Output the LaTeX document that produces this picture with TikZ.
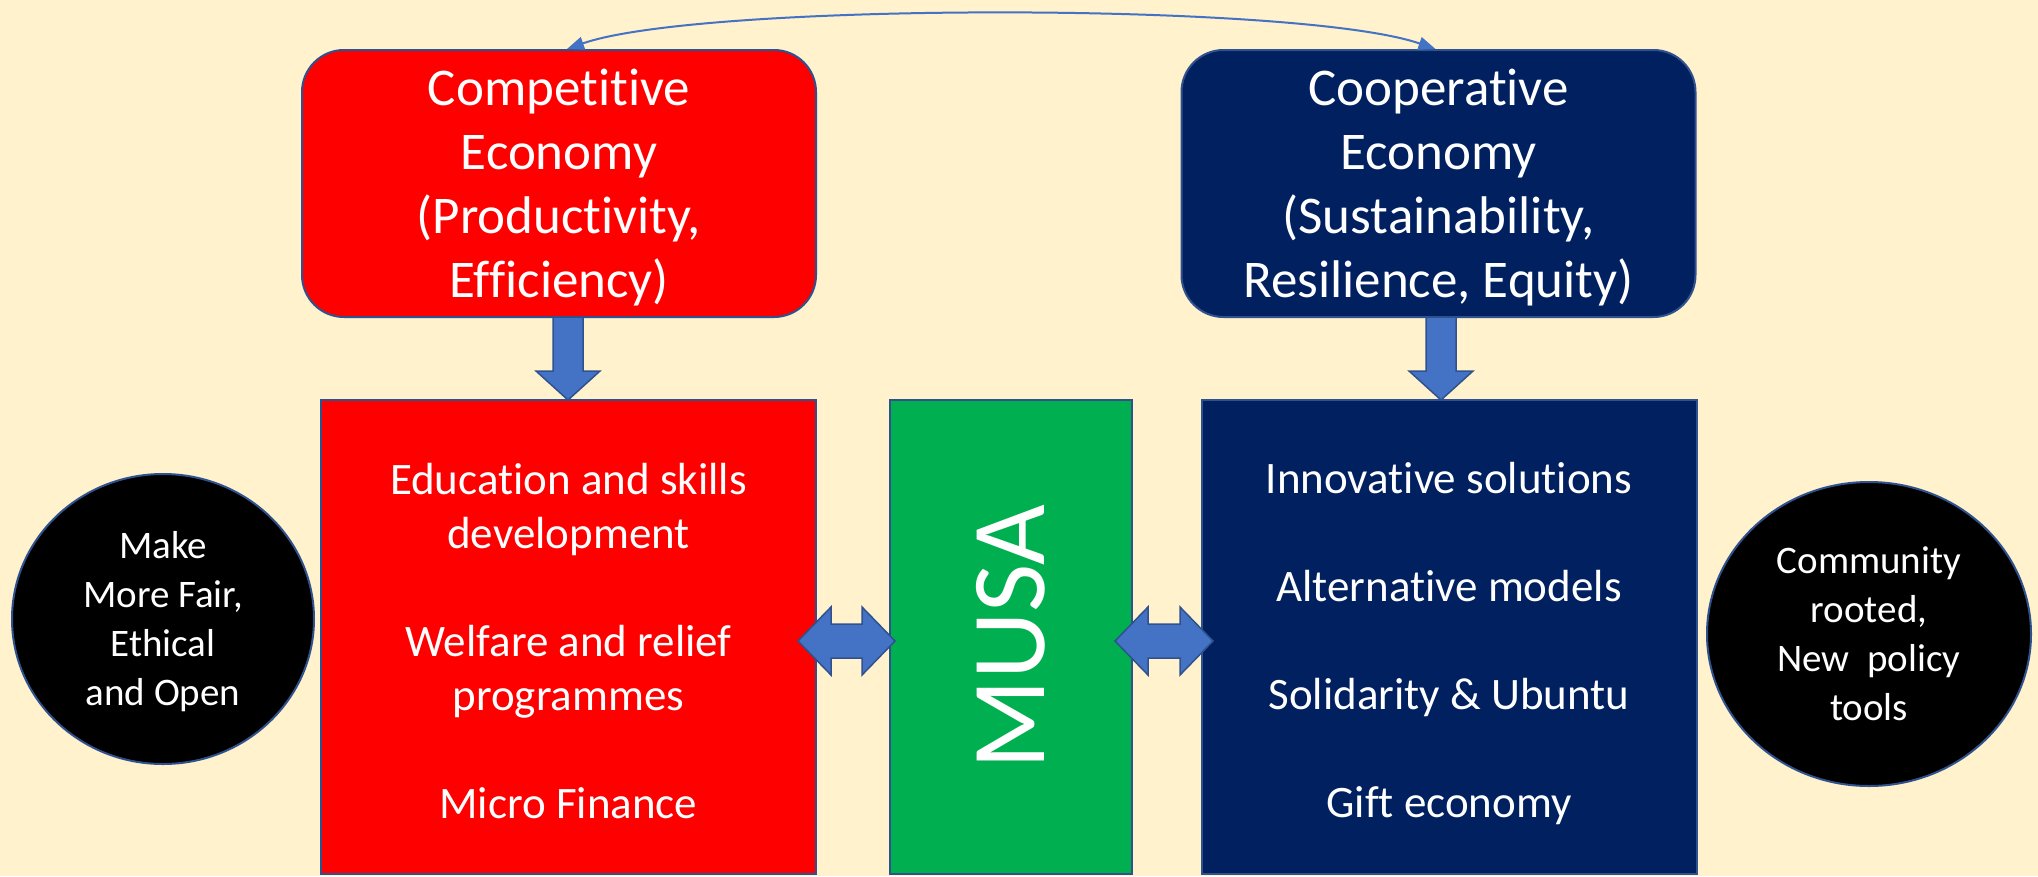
\documentclass[tikz,border=0pt]{standalone}
\usepackage{fontspec}
\setmainfont[Ligatures=NoCommon,RawFeature={-liga;-clig;-calt;-rlig;-dlig}]{Carlito}
\usetikzlibrary{shapes.geometric,arrows.meta,calc}
\newcommand\zk{\kern0pt{}}
\definecolor{bg}{HTML}{FFF2CC}
\definecolor{redc}{HTML}{FF0000}
\definecolor{navy}{HTML}{002060}
\definecolor{greenc}{HTML}{00B050}
\definecolor{arrowfill}{HTML}{4472C4}
\definecolor{edge}{HTML}{2F528F}
\begin{document}
\begin{tikzpicture}[x=1pt,y=-1pt,
  box/.style={draw=edge, line width=2pt, text=white, align=center, inner sep=0pt},
  topbox/.style={box, rounded corners=42pt, minimum width=514pt, minimum height=267pt, font=\fontsize{53}{64}\selectfont},
  lowbox/.style={box, minimum width=495pt, minimum height=474pt, font=\fontsize{45}{54}\selectfont},
  disc/.style={ellipse, draw=edge, line width=2pt, fill=black, text=white, align=center, inner sep=0pt, font=\fontsize{39}{49}\selectfont},
  blockarrow/.style={fill=arrowfill, draw=edge, line width=1.5pt, line join=miter},
  link/.style={draw=arrowfill, line width=2pt, {Triangle[length=17pt,width=13pt]}-{Triangle[length=17pt,width=13pt]}}
]
\fill[bg] (0,0) rectangle (2038,876);
\useasboundingbox (0,0) rectangle (2038,876);

\node[topbox, fill=redc] (comp) at (559,183.5) {\rule{0pt}{45pt}Competit\zk ive\\Economy\\(Productivit\zk y,\\Ef\zk f\zk iciency)};
\node[topbox, fill=navy] (coop) at (1438.5,183.5) {\rule{0pt}{45pt}Cooperat\zk ive\\Economy\\(Sustainability,\\Resilience, Equity)};

\node[lowbox, fill=redc] (compl) at (568.5,637) {\rule{0pt}{40pt}Education and skills\\development\\[54pt]Welfare and relief\\programmes\\[54pt]Micro Finance};
\node[lowbox, fill=navy] (coopl) at (1449,637) {\rule{0pt}{44pt}Innovat\zk ive solut\zk ions\\[54pt]Alternat\zk ive models\\[54pt]Solidarity \& Ubuntu\\[54pt]Gift economy};
\node[box, fill=greenc, rotate=90, minimum width=474pt, minimum height=242pt, font=\fontsize{105}{110}\selectfont] (musa) at (1011,637) {MUSA};

\node[disc, minimum width=302pt, minimum height=290pt] (fair) at (163,619) {\rule{0pt}{33pt}Make\\More Fair,\\Ethical\\and Open};
\node[disc, minimum width=324pt, minimum height=304pt] (comm) at (1869,634) {Community\\rooted,\\New\ \ policy\\tools};

% down block arrows
\draw[blockarrow] (553,317) -- (583,317) -- (583,371) -- (600,371) -- (568,400) -- (536,371) -- (553,371) -- cycle;
\draw[blockarrow] (1426,317) -- (1456,317) -- (1456,371) -- (1473,371) -- (1441,400) -- (1409,371) -- (1426,371) -- cycle;

% double block arrows
\draw[blockarrow] (798,641) -- (831,607) -- (831,624) -- (862,624) -- (862,607) -- (895,641) -- (862,675) -- (862,658) -- (831,658) -- (831,675) -- cycle;
\draw[blockarrow] (1115,641) -- (1148,607) -- (1148,624) -- (1180,624) -- (1180,607) -- (1213,641) -- (1180,675) -- (1180,658) -- (1148,658) -- (1148,675) -- cycle;

% top curved link
\draw[link] ($(comp.north)+(8,0)$) .. controls (700,2) and (1300,2) .. ($(coop.north)+(-3,0)$);
\end{tikzpicture}
\end{document}
